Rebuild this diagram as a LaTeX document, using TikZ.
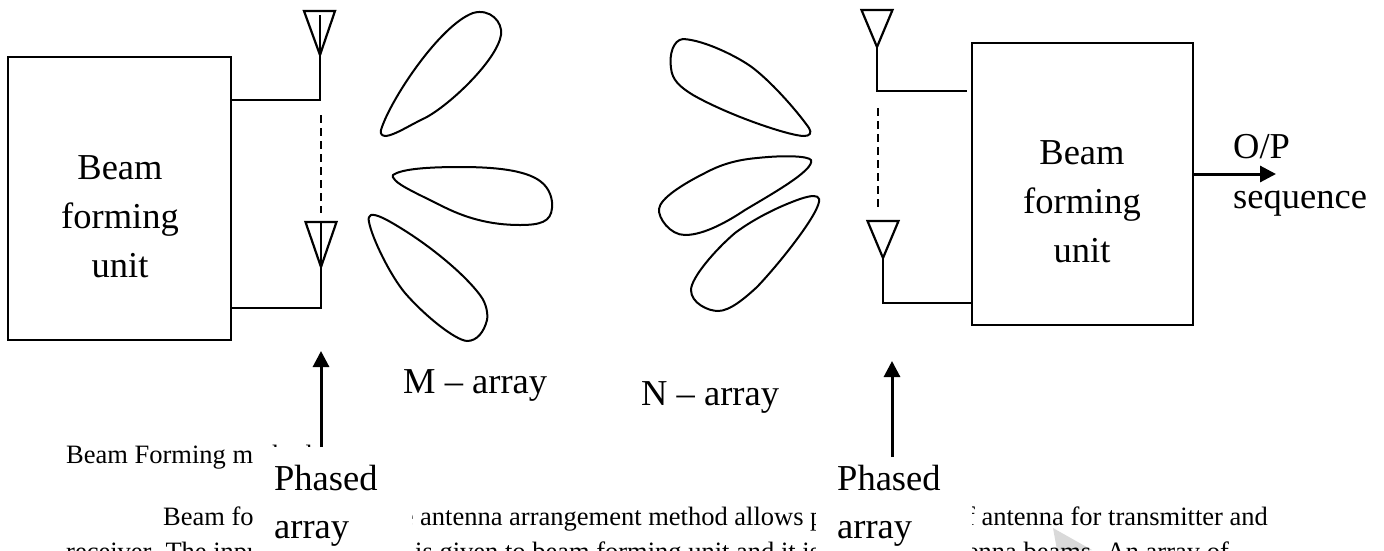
\documentclass[tikz,border=0pt]{standalone}
\usepackage{fontspec}
\setmainfont{Liberation Serif}
\usetikzlibrary{
    arrows.meta,
    positioning,
    calc
}
\tikzset{
    beambox/.style={
        draw,
        rectangle,
        line width=2.2pt,
        fill=white
    },
    bigtxt/.style={
        font=\fontsize{36.5}{49}\selectfont,
        align=center,
        inner sep=0pt
    },
    bodytxt/.style={
        font=\fontsize{26.5}{30}\selectfont,
        inner sep=0pt
    },
    maskbox/.style={
        fill=white,
        anchor=north west,
        inner sep=0pt
    },
    wire/.style={
        line width=2.2pt
    },
    dots/.style={
        line width=2.4pt,
        dash pattern=on 7.5pt off 5.5pt
    },
    lobe/.style={
        line width=2pt
    },
    arr/.style={
        -{Triangle[length=16pt,width=16pt]},
        line width=3pt
    }
}

\begin{document}
\begin{tikzpicture}[x=1pt,y=-1pt]
\useasboundingbox (0,0) rectangle (1384,550);

% watermark and page text behind the labels
\fill[gray!30] (1053,528) -- (1092,550) -- (1057,550) -- cycle;
\node[bodytxt, anchor=base west] (capt) at (66,463) {Beam Forming method};
\node[bodytxt, anchor=base west] (para1a) at (163,525) {Beam forming};
\node[bodytxt, anchor=base west] (para1b) at (420,525) {\llap{e }antenna arrangement method allows p};
\node[bodytxt, anchor=base east] (para1c) at (1268,525) {of antenna for transmitter and};
\node[bodytxt, anchor=base west] (para2a) at (66,560) {receiver. The input};
\node[bodytxt, anchor=base west] (para2b) at (415,560) {is given to beam forming unit and it is};
\node[bodytxt, anchor=base east] (para2c) at (1229,560) {antenna beams. An array of};

% blocks
\node[beambox, minimum width=223pt, minimum height=283pt] (bfl) at (119.5,198.5) {};
\node[beambox, minimum width=221pt, minimum height=282pt] (bfr) at (1082.5,184) {};
\node[bigtxt] (bfltxt) at (120,217) {Beam\\ forming\\ unit};
\node[bigtxt] (bfrtxt) at (1082,202) {Beam\\ forming\\ unit};

% antennas on the left
\coordinate (tipa) at (320,55);
\coordinate (feeda) at (320,100);
\coordinate (tipb) at (321,267);
\coordinate (feedb) at (321,308);
\draw[wire] (tipa) -- ++(-16,-44) -- ++(31,0) -- cycle;
\draw[wire] (tipb) -- ++(-15.5,-45) -- ++(31,0) -- cycle;
\draw[wire] (320,15) -- (tipa) -- (feeda) -- (bfl.east |- feeda);
\draw[wire] (321,222) -- (tipb) -- (feedb) -- (bfl.east |- feedb);
\draw[dots] (321,115) -- (321,213);

% antennas on the right
\coordinate (tipc) at (877,47);
\coordinate (feedc) at (877,91);
\coordinate (tipd) at (883,258);
\coordinate (feedd) at (883,303);
\draw[wire] (tipc) -- ++(-15.5,-37) -- ++(31,0) -- cycle;
\draw[wire] (tipd) -- ++(-15.5,-37) -- ++(31,0) -- cycle;
\draw[wire] (tipc) -- (feedc) -- (967,91);
\draw[wire] (tipd) -- (feedd) -- (bfr.west |- feedd);
\draw[dots] (878,108) -- (878,207);

% beam lobes
\draw[lobe] (381,130) .. controls (390,100) and (440,25) .. (473,13) .. controls (490,8) and (503,22) .. (501,35) .. controls (497,60) and (450,105) .. (425,118) .. controls (410,125) and (395,135) .. (386,136) .. controls (382,136) and (380,134) .. (381,130) -- cycle;
\draw[lobe] (393,175) .. controls (400,170) and (420,167) .. (460,167) .. controls (495,167) and (525,170) .. (540,181) .. controls (550,188) and (553,200) .. (552,208) .. controls (551,222) and (540,225) .. (520,225) .. controls (490,225) and (465,218) .. (440,205) .. controls (420,195) and (400,186) .. (395,180) .. controls (393,178) and (392,176) .. (393,175) -- cycle;
\draw[lobe] (371,215) .. controls (376,214) and (385,218) .. (407,232) .. controls (435,250) and (465,275) .. (480,295) .. controls (487,304) and (488,315) .. (487,320) .. controls (484,332) and (477,341) .. (467,341) .. controls (455,340) and (425,316) .. (405,293) .. controls (390,275) and (372,238) .. (369,222) .. controls (368,218) and (369,216) .. (371,215) -- cycle;
\draw[lobe] (683,39) .. controls (705,40) and (740,58) .. (753,68) .. controls (775,85) and (800,115) .. (809,128) .. controls (812,133) and (810,136) .. (804,136) .. controls (790,136) and (730,116) .. (693,95) .. controls (680,87) and (672,80) .. (671,68) .. controls (669,55) and (673,40) .. (683,39) -- cycle;
\draw[lobe] (811,160) .. controls (808,156) and (785,155) .. (757,158) .. controls (735,160) and (720,165) .. (705,173) .. controls (685,183) and (660,198) .. (659,209) .. controls (658,218) and (670,235) .. (685,235) .. controls (705,235) and (730,220) .. (745,210) .. controls (770,195) and (815,170) .. (811,160) -- cycle;
\draw[lobe] (819,199) .. controls (818,195) and (812,195) .. (800,199) .. controls (780,206) and (755,218) .. (735,233) .. controls (715,250) and (691,278) .. (691,290) .. controls (691,303) and (708,311) .. (718,311) .. controls (730,311) and (745,298) .. (757,287) .. controls (780,263) and (822,210) .. (819,199) -- cycle;

% labels
\node[bigtxt, anchor=base west] (marr) at (403,393) {M -- array};
\node[bigtxt, anchor=base west] (narr) at (641,405) {N -- array};
\node[bigtxt, anchor=base west] (optop) at (1233,158) {O/P};
\node[bigtxt, anchor=base west] (opseq) at (1233,208) {sequence};

% arrows up to the arrays
\coordinate (upa) at (321,351);
\coordinate (upb) at (892,361);
\node[maskbox, minimum width=159pt, minimum height=110pt] (phl) at (253,447) {};
\node[maskbox, minimum width=156pt, minimum height=100pt] (phr) at (816,457) {};
\node[bigtxt, anchor=base west] (phltxt) at (274,490) {Phased};
\node[bigtxt, anchor=base west] (phlarr) at (274,538) {array};
\node[bigtxt, anchor=base west] (phrtxt) at (837,490) {Phased};
\node[bigtxt, anchor=base west] (phrarr) at (837,538) {array};
\draw[arr] (phl.north -| upa) -- (upa);
\draw[arr] (phr.north -| upb) -- (upb);
\draw[arr] (bfr.east |- 0,174) -- (1276,174);

\end{tikzpicture}
\end{document}
